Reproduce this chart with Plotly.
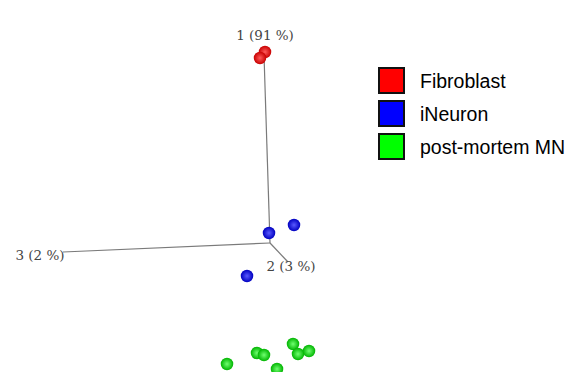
import plotly.graph_objects as go

# Projected PCA scores (screen-projected coordinates)
groups = ["Fibroblast", "iNeuron", "post-mortem MN"]
fib_x = [265, 260]
fib_y = [52, 58]
ineu_x = [269, 294, 247]
ineu_y = [233, 225, 276]
mn_x = [227, 257, 264, 293, 298, 309, 277]
mn_y = [364, 353, 355, 344, 354, 351, 369]

# PCA axis frame
axis_labels = ["1 (91 %)", "2 (3 %)", "3 (2 %)"]
origin = (270, 243)
axis_end_x = [264, 288, 63]
axis_end_y = [55, 262, 252]
label_x = [265, 291, 40]
label_y = [37, 268, 257]

edge_cols = ["#c80000", "#0000c0", "#00b400"]
center_cols = ["#ff5a5a", "#5a5aff", "#70ff70"]
legend_cols = ["#ff0000", "#0000ff", "#00ff00"]

fig = go.Figure()

for ex, ey in zip(axis_end_x, axis_end_y):
    fig.add_trace(go.Scatter(x=[origin[0], ex], y=[origin[1], ey], mode="lines",
                             line=dict(color="#7a7a7a", width=1.2),
                             hoverinfo="skip", showlegend=False))

fig.add_trace(go.Scatter(x=label_x, y=label_y, mode="text", text=axis_labels,
                         textfont=dict(family="DejaVu Serif", size=13.5, color="#444444"),
                         hoverinfo="skip", showlegend=False))

for name, xs, ys, ec, cc in zip(groups, [fib_x, ineu_x, mn_x], [fib_y, ineu_y, mn_y],
                                edge_cols, center_cols):
    fig.add_trace(go.Scatter(x=xs, y=ys, mode="markers", name=name,
                             marker=dict(size=12.5, color=ec,
                                         gradient=dict(type="radial", color=cc),
                                         line=dict(width=0)),
                             showlegend=False))

# custom legend
for i, (name, col) in enumerate(zip(groups, legend_cols)):
    top = 68 + i * 33
    fig.add_shape(type="rect", xref="paper", yref="paper",
                  x0=379 / 570, x1=404 / 570,
                  y0=1 - (top + 25) / 372, y1=1 - top / 372,
                  fillcolor=col, line=dict(color="#111111", width=2))
    fig.add_annotation(xref="paper", yref="paper", x=418 / 570,
                       y=1 - (top + 12.5) / 372,
                       text=name, showarrow=False, xanchor="left", yanchor="middle",
                       font=dict(family="Liberation Sans, Arial", size=19.5, color="#000000"))

fig.update_layout(
    width=570, height=372,
    margin=dict(l=0, r=0, t=0, b=0),
    paper_bgcolor="white", plot_bgcolor="white",
    xaxis=dict(range=[0, 570], visible=False, fixedrange=True),
    yaxis=dict(range=[372, 0], visible=False, fixedrange=True),
    showlegend=False,
)

fig.write_html("out.html", config={"displayModeBar": False},
               post_script="document.body.style.margin='0';document.body.style.overflow='hidden';")
